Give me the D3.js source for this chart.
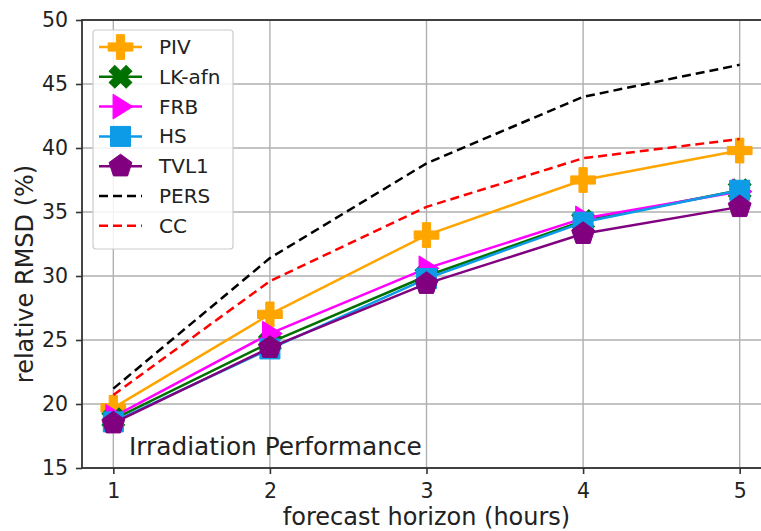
<!DOCTYPE html>
<html>
<head>
<meta charset="utf-8">
<script src="https://cdn.jsdelivr.net/npm/d3@7"></script>
<style>
  body { margin: 0; background: #fff; }
  svg { display: block; font-family: "DejaVu Sans", sans-serif; }
</style>
</head>
<body>
<svg id="chart"></svg>
<script>
const horizons = [1, 2, 3, 4, 5];
const yTicks = [15, 20, 25, 30, 35, 40, 45, 50];

const piv = [19.7, 27.0, 33.2, 37.5, 39.8];
const lkAfn = [18.8, 24.8, 30.0, 34.3, 36.7];
const frb = [19.0, 25.5, 30.6, 34.5, 36.6];
const hs = [18.6, 24.3, 29.8, 34.2, 36.7];
const tvl1 = [18.5, 24.4, 29.4, 33.3, 35.4];
const pers = [21.2, 31.4, 38.8, 44.0, 46.5];
const cc = [20.7, 29.6, 35.4, 39.2, 40.7];

const series = [
  { name: "PIV", values: piv, color: "#ffa500", marker: "plus", dashed: false },
  { name: "LK-afn", values: lkAfn, color: "#007000", marker: "x", dashed: false },
  { name: "FRB", values: frb, color: "#ff00ff", marker: "triangle", dashed: false },
  { name: "HS", values: hs, color: "#0d9be8", marker: "square", dashed: false },
  { name: "TVL1", values: tvl1, color: "#800080", marker: "pentagon", dashed: false },
  { name: "PERS", values: pers, color: "#000000", marker: null, dashed: true },
  { name: "CC", values: cc, color: "#ff0000", marker: null, dashed: true }
];

const width = 761, height = 531;
const svg = d3.select("#chart").attr("width", width).attr("height", height);

const x = d3.scaleLinear().domain([0.8, 5.2]).range([82, 771]);
const y = d3.scaleLinear().domain([15, 50]).range([468, 20]);

// grid
svg.append("g")
  .selectAll("line")
  .data(horizons)
  .join("line")
  .attr("x1", d => x(d)).attr("x2", d => x(d))
  .attr("y1", y(50)).attr("y2", y(15))
  .attr("stroke", "#b0b0b0").attr("stroke-width", 1.4);
svg.append("g")
  .selectAll("line")
  .data(yTicks)
  .join("line")
  .attr("x1", x(0.8)).attr("x2", x(5.2))
  .attr("y1", d => y(d)).attr("y2", d => y(d))
  .attr("stroke", "#b0b0b0").attr("stroke-width", 1.4);

// markers
const symbolFor = (m, s) => {
  if (m === "plus") return d3.symbol(d3.symbolCross, s * s * 0.85)();
  if (m === "x") return d3.symbol(d3.symbolCross, s * s * 0.8)();
  if (m === "square") return d3.symbol(d3.symbolSquare, s * s)();
  if (m === "triangle") {
    const r = s * 0.62;
    return `M${r},0L${-r * 0.6},${-r}L${-r * 0.6},${r}Z`;
  }
  if (m === "pentagon") {
    const r = s * 0.6;
    const pts = d3.range(5).map(i => {
      const a = -Math.PI / 2 + i * 2 * Math.PI / 5;
      return [r * Math.cos(a), r * Math.sin(a)];
    });
    return "M" + pts.map(p => p.join(",")).join("L") + "Z";
  }
  return null;
};
const rotFor = m => (m === "x" ? 45 : 0);

const line = d3.line().x((d, i) => x(horizons[i])).y(d => y(d));

series.forEach(s => {
  const g = svg.append("g");
  g.append("path")
    .attr("d", line(s.values))
    .attr("fill", "none")
    .attr("stroke", s.color)
    .attr("stroke-width", 2.5)
    .attr("stroke-dasharray", s.dashed ? "9,5" : null);
  if (s.marker) {
    g.selectAll("path.m")
      .data(s.values)
      .join("path")
      .attr("d", symbolFor(s.marker, 20))
      .attr("transform", (d, i) => `translate(${x(horizons[i])},${y(d)}) rotate(${rotFor(s.marker)})`)
      .attr("fill", s.color)
      .attr("stroke", s.color)
      .attr("stroke-width", 1);
  }
});

// frame
svg.append("rect")
  .attr("x", x(0.8)).attr("y", y(50))
  .attr("width", x(5.2) - x(0.8)).attr("height", y(15) - y(50))
  .attr("fill", "none").attr("stroke", "#333").attr("stroke-width", 1.8);

// axes
const xAxis = svg.append("g")
  .attr("transform", `translate(0,${y(15)})`)
  .call(d3.axisBottom(x).tickValues(horizons).tickFormat(d3.format("d")).tickSizeOuter(0).tickSize(6).tickPadding(9));
const yAxis = svg.append("g")
  .attr("transform", `translate(${x(0.8)},0)`)
  .call(d3.axisLeft(y).tickValues(yTicks).tickSizeOuter(0).tickSize(6).tickPadding(8));
[xAxis, yAxis].forEach(a => {
  a.select(".domain").remove();
  a.selectAll(".tick line").attr("stroke", "#333").attr("stroke-width", 1.6);
  a.selectAll(".tick text").attr("fill", "#222").attr("font-size", 20.5)
    .attr("font-family", "DejaVu Sans, sans-serif");
});

svg.append("text")
  .attr("x", x(3)).attr("y", 525)
  .attr("text-anchor", "middle").attr("font-size", 24).attr("fill", "#222")
  .text("forecast horizon (hours)");
svg.append("text")
  .attr("transform", `translate(33,${(y(15) + y(50)) / 2 + 30}) rotate(-90)`)
  .attr("text-anchor", "middle").attr("font-size", 24).attr("fill", "#222")
  .text("relative RMSD (%)");

svg.append("text")
  .attr("x", 129).attr("y", 455)
  .attr("font-size", 24.8).attr("fill", "#222")
  .text("Irradiation Performance");

// legend
const leg = svg.append("g");
leg.append("rect")
  .attr("x", 93).attr("y", 30).attr("width", 140).attr("height", 219)
  .attr("rx", 3).attr("fill", "#fff").attr("fill-opacity", 0.85)
  .attr("stroke", "#ccc").attr("stroke-width", 1.2);
series.forEach((s, i) => {
  const cy = 47 + i * 29.8;
  leg.append("line")
    .attr("x1", 99).attr("x2", 142).attr("y1", cy).attr("y2", cy)
    .attr("stroke", s.color).attr("stroke-width", 2.5)
    .attr("stroke-dasharray", s.dashed ? "9,5" : null);
  if (s.marker) {
    leg.append("path")
      .attr("d", symbolFor(s.marker, 20))
      .attr("transform", `translate(120.5,${cy}) rotate(${rotFor(s.marker)})`)
      .attr("fill", s.color).attr("stroke", s.color).attr("stroke-width", 1);
  }
  leg.append("text")
    .attr("x", 159).attr("y", cy + 7)
    .attr("font-size", 20).attr("fill", "#222")
    .text(s.name);
});
</script>
</body>
</html>
